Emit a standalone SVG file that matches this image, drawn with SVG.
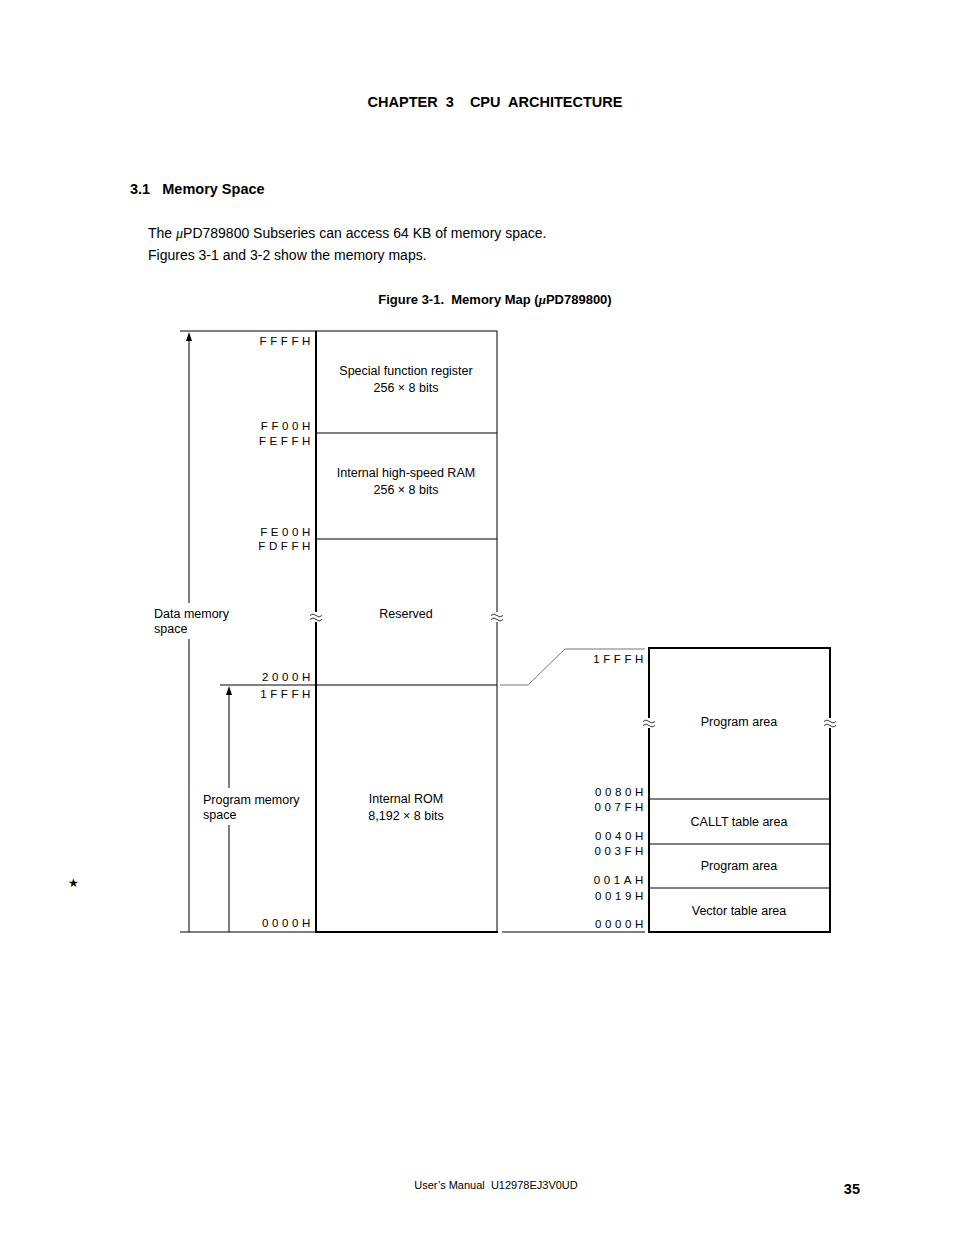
<svg xmlns="http://www.w3.org/2000/svg" width="954" height="1235" viewBox="0 0 954 1235">
<style>
text{font-family:"Liberation Sans",Arial,sans-serif;fill:#000}
.t{font-size:12.5px}
.a{font-size:11.5px;letter-spacing:3.6px;text-anchor:end}
.c{text-anchor:middle}
.b{font-weight:bold;font-size:14.5px}
.l{stroke:#000;stroke-width:1;fill:none}
.k{stroke:#000;stroke-width:2;fill:none}
.g{stroke:#777;stroke-width:1;fill:none}
</style>
<defs>
<g id="brk"><rect x="-6" y="-5" width="12" height="10" fill="#fff"/><path class="l" d="M-6,-1.5 q3,-3 6,0 t6,0 M-6,2.5 q3,-3 6,0 t6,0" style="stroke-width:0.8"/></g>
<path id="ah" d="M-3,9 L0,0 L3,9 Z" fill="#000"/>
</defs>
<text x="495" y="107" class="b c" xml:space="preserve">CHAPTER  3    CPU  ARCHITECTURE</text>
<text x="130" y="194" class="b" xml:space="preserve">3.1   Memory Space</text>
<text x="148" y="238" style="font-size:14px">The <tspan font-family="Liberation Serif" font-style="italic">μ</tspan>PD789800 Subseries can access 64 KB of memory space.</text>
<text x="148" y="260" style="font-size:14px">Figures 3-1 and 3-2 show the memory maps.</text>
<text x="495" y="304" class="c" style="font-size:13px;font-weight:bold" xml:space="preserve">Figure 3-1.  Memory Map (<tspan font-family="Liberation Serif" font-style="italic">μ</tspan>PD789800)</text>
<g id="connectors">
<line class="l" x1="180" y1="331" x2="316" y2="331"/>
<line class="l" x1="220" y1="685" x2="497" y2="685"/>
<line class="l" x1="180" y1="932" x2="316" y2="932"/>
<line class="l" x1="189" y1="336" x2="189" y2="603"/>
<use href="#ah" x="189" y="332"/>
<line class="l" x1="189" y1="639" x2="189" y2="932"/>
<line class="l" x1="229" y1="690" x2="229" y2="788"/>
<use href="#ah" x="229" y="686"/>
<line class="l" x1="229" y1="825" x2="229" y2="932"/>
<polyline class="g" points="500,685 528,685 565,649 645,649"/>
<line class="l" x1="502" y1="932" x2="645" y2="932"/>
</g>
<g id="left-map">
<rect x="316" y="331" width="181" height="601" class="l"/>
<line class="k" x1="316" y1="331" x2="316" y2="933"/>
<line class="k" x1="315" y1="932" x2="498" y2="932"/>
<line class="l" x1="316" y1="433" x2="497" y2="433"/>
<line class="l" x1="316" y1="539" x2="497" y2="539"/>
<use href="#brk" x="316" y="617"/><use href="#brk" x="497" y="617"/>
</g>
<g id="right-map">
<rect x="649" y="648" width="181" height="284" class="k"/>
<line class="l" x1="649" y1="799" x2="830" y2="799"/>
<line class="l" x1="649" y1="844" x2="830" y2="844"/>
<line class="l" x1="649" y1="888" x2="830" y2="888"/>
<use href="#brk" x="649" y="723"/><use href="#brk" x="830" y="723"/>
</g>
<g id="labels">
<text x="406" y="375" class="t c">Special function register</text>
<text x="406" y="392" class="t c">256 × 8 bits</text>
<text x="406" y="477" class="t c">Internal high-speed RAM</text>
<text x="406" y="494" class="t c">256 × 8 bits</text>
<text x="406" y="618" class="t c">Reserved</text>
<text x="406" y="803" class="t c">Internal ROM</text>
<text x="406" y="820" class="t c">8,192 × 8 bits</text>
<text x="154" y="618" class="t">Data memory</text>
<text x="154" y="633" class="t">space</text>
<text x="203" y="804" class="t">Program memory</text>
<text x="203" y="819" class="t">space</text>
<text x="739" y="726" class="t c">Program area</text>
<text x="739" y="826" class="t c">CALLT table area</text>
<text x="739" y="870" class="t c">Program area</text>
<text x="739" y="915" class="t c">Vector table area</text>
</g>
<g id="addresses">
<text x="314" y="345" class="a">FFFFH</text>
<text x="314" y="430" class="a">FF00H</text>
<text x="314" y="445" class="a">FEFFH</text>
<text x="314" y="536" class="a">FE00H</text>
<text x="314" y="550" class="a">FDFFH</text>
<text x="314" y="681" class="a">2000H</text>
<text x="314" y="698" class="a">1FFFH</text>
<text x="314" y="927" class="a">0000H</text>
<text x="647" y="663" class="a">1FFFH</text>
<text x="647" y="796" class="a">0080H</text>
<text x="647" y="811" class="a">007FH</text>
<text x="647" y="840" class="a">0040H</text>
<text x="647" y="855" class="a">003FH</text>
<text x="647" y="884" class="a">001AH</text>
<text x="647" y="900" class="a">0019H</text>
<text x="647" y="928" class="a">0000H</text>
</g>
<text x="73" y="887" class="c" style="font-size:12px">★</text>
<text x="496" y="1189" class="c" style="font-size:11px" xml:space="preserve">User’s Manual  U12978EJ3V0UD</text>
<text x="860" y="1194" style="font-size:14.5px;font-weight:bold;text-anchor:end">35</text>
</svg>
